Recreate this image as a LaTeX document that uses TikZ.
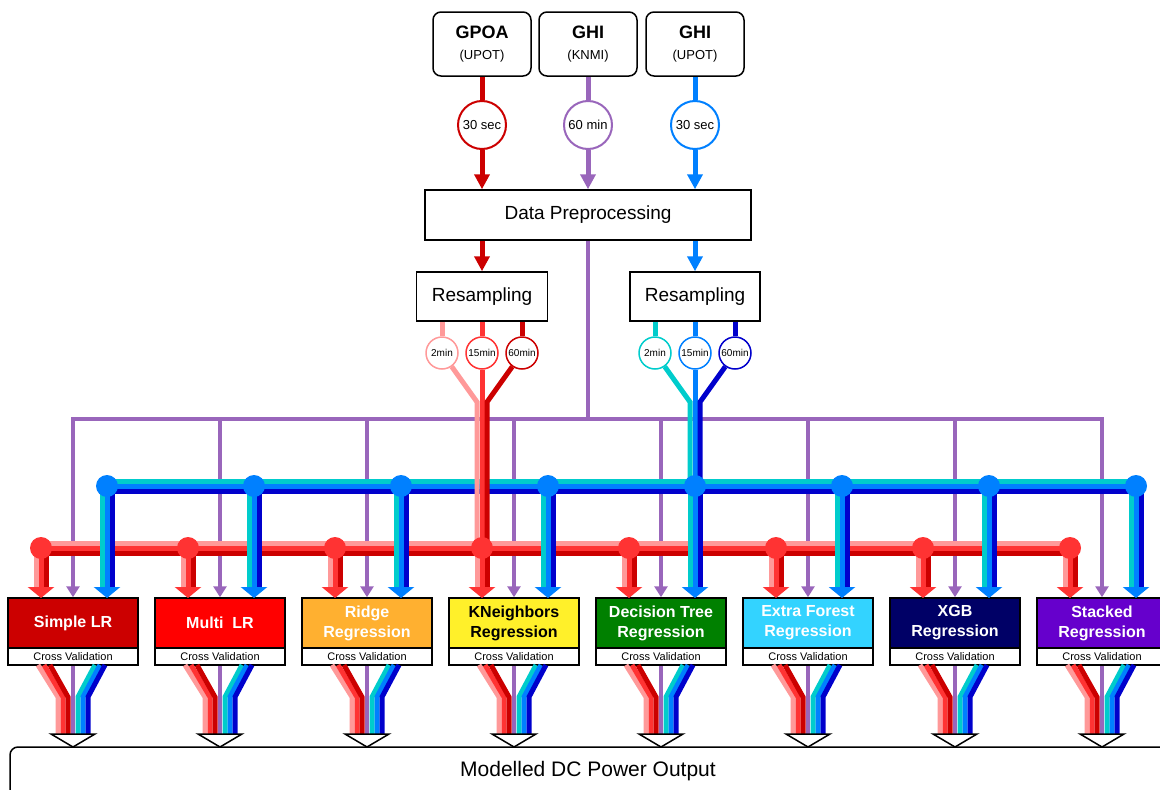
\documentclass[tikz,border=0pt]{standalone}
\usepackage{fontspec}
\setmainfont{Liberation Sans}
\usetikzlibrary{arrows.meta,positioning}

\definecolor{lightred}{HTML}{FF9999}
\definecolor{midred}{HTML}{FF3333}
\definecolor{deepred}{HTML}{CC0000}
\definecolor{lightblue}{HTML}{00CCCC}
\definecolor{midblue}{HTML}{0080FF}
\definecolor{deepblue}{HTML}{0000CC}
\definecolor{lilac}{HTML}{9966BB}
\definecolor{simplec}{HTML}{CC0000}
\definecolor{multic}{HTML}{FF0000}
\definecolor{ridgec}{HTML}{FFB030}
\definecolor{kneighc}{HTML}{FFF02A}
\definecolor{treec}{HTML}{008000}
\definecolor{forestc}{HTML}{33D3FF}
\definecolor{xgbc}{HTML}{000066}
\definecolor{stackc}{HTML}{6600CC}

\newcommand{\setfs}[1]{\fontsize{#1}{#1}\selectfont}

\begin{document}
\begin{tikzpicture}[x=1pt,y=-1pt,line join=miter,
    src node/.style={draw,line width=1.5pt,rounded corners=8pt,fill=white,minimum width=98pt,minimum height=64pt,inner sep=0pt,align=center,font=\fontsize{13}{21}\selectfont},
    rate node/.style={circle,draw,line width=2pt,fill=white,minimum size=48pt,inner sep=0pt,font=\setfs{13}},
    proc node/.style={draw,line width=1.5pt,fill=white,inner sep=0pt,font=\setfs{19}},
    res node/.style={circle,draw,line width=1.5pt,fill=white,minimum size=32pt,inner sep=0pt,font=\setfs{10}},
    model node/.style={draw,line width=1.5pt,minimum width=130pt,minimum height=50pt,inner sep=0pt,align=center,font=\fontsize{16}{20}\selectfont\bfseries},
    cv node/.style={draw,line width=1.5pt,fill=white,minimum width=130pt,minimum height=17pt,inner sep=0pt,font=\setfs{11}},
    feed/.style={line width=5pt},
    feed tip/.style={-{Triangle[width=15pt,length=15pt]}},
    drop tip/.style={-{Triangle[width=26pt,length=11pt]}},
    lilac tip/.style={-{Triangle[width=13pt,length=11pt]}}]
    \useasboundingbox (0,0) rectangle (1160,790);
    \clip (0,0) rectangle (1160,790);

    % sources
    \node[src node] (gpoa) at (482,44) {{\fontsize{18}{21}\selectfont\bfseries GPOA}\\(UPOT)};
    \node[src node] (knmi) at (588,44) {{\fontsize{18}{21}\selectfont\bfseries GHI}\\(KNMI)};
    \node[src node] (upot) at (695,44) {{\fontsize{18}{21}\selectfont\bfseries GHI}\\(UPOT)};

    \node[rate node,draw=deepred] (r1) at (482,125) {30 sec};
    \node[rate node,draw=lilac] (r2) at (588,125) {60 min};
    \node[rate node,draw=midblue] (r3) at (695,125) {30 sec};

    \node[proc node,minimum width=326pt,minimum height=50pt] (dp) at (588,215) {Data Preprocessing};
    \node[proc node,minimum width=131pt,minimum height=49pt] (rs1) at (482,296.5) {Resampling};
    \node[proc node,minimum width=130pt,minimum height=49pt] (rs2) at (695,296.5) {Resampling};

    \path[feed]
        (gpoa) edge[deepred] (r1)
        (knmi) edge[lilac] (r2)
        (upot) edge[midblue] (r3)
        (r1) edge[deepred,feed tip] (r1 |- dp.north)
        (r2) edge[lilac,feed tip] (r2 |- dp.north)
        (r3) edge[midblue,feed tip] (r3 |- dp.north)
        (dp.south -| rs1) edge[deepred,feed tip] (rs1)
        (dp.south -| rs2) edge[midblue,feed tip] (rs2)
        ;

    % purple line to every model
    \coordinate (pbus) at (588,419);
    \draw[lilac,line width=4pt] (dp.south) -- (pbus);
    \draw[lilac,line width=4pt,line cap=rect] (73,419) -- (1102,419);

    % model boxes
    \foreach \i/\txt/\fc/\tc in {0/{Simple LR}/simplec/white,1/{Multi\ \ LR}/multic/white,
        2/{Ridge\\Regression}/ridgec/white,3/{KNeighbors\\Regression}/kneighc/black,
        4/{Decision Tree\\Regression}/treec/white,5/{Extra Forest\\Regression}/forestc/white,
        6/{XGB\\Regression}/xgbc/white,7/{Stacked\\Regression}/stackc/white}{
        \pgfmathsetmacro\cx{73+147*\i}
        \node[model node,fill=\fc,text=\tc] (m\i) at (\cx,623) {\txt};
        \node[cv node] (cv\i) at (\cx,656.5) {Cross Validation};
        \draw[lilac,line width=4pt,lilac tip] (\cx,419) -- (m\i.north);
    }

    % blue and red buses
    \foreach \y/\col in {481/lightblue,486/midblue,491/deepblue}
        \draw[\col,feed] (107,\y) -- (1136,\y);
    \foreach \y/\col in {543/lightred,548/midred,553/deepred}
        \draw[\col,feed] (41,\y) -- (1070,\y);

    % resampled series
    \foreach \n/\dx/\lbl/\col in {a/-40/2min/lightred,b/0/15min/midred,c/40/60min/deepred}{
        \node[res node,draw=\col] (rs1\n) at (482+\dx,353) {\lbl};
        \draw[\col,feed] (rs1.south -| rs1\n) -- (rs1\n);
        \draw[\col,feed] (rs1\n) -- (482+\dx/8,402) -- (482+\dx/8,548);
    }
    \foreach \n/\dx/\lbl/\col in {a/-40/2min/lightblue,b/0/15min/midblue,c/40/60min/deepblue}{
        \node[res node,draw=\col] (rs2\n) at (695+\dx,353) {\lbl};
        \draw[\col,feed] (rs2.south -| rs2\n) -- (rs2\n);
        \draw[\col,feed] (rs2\n) -- (695+\dx/8,402) -- (695+\dx/8,486);
    }

    % drops into the models
    \foreach \i in {0,...,7}{
        \pgfmathsetmacro\rx{73+147*\i-32}
        \pgfmathsetmacro\bx{73+147*\i+34}
        \draw[lightblue,feed] (\bx-5,486) -- (\bx-5,588);
        \draw[deepblue,feed] (\bx+5,486) -- (\bx+5,588);
        \draw[midblue,feed,drop tip] (\bx,486) -- (\bx,598);
        \draw[lightred,feed] (\rx-5,548) -- (\rx-5,588);
        \draw[deepred,feed] (\rx+5,548) -- (\rx+5,588);
        \draw[midred,feed,drop tip] (\rx,548) -- (\rx,598);
        \fill[midblue] (\bx,486) circle (11);
        \fill[midred] (\rx,548) circle (11);
    }

    % outputs
    \foreach \i in {0,...,7}{
        \pgfmathsetmacro\cx{73+147*\i}
        \foreach \t/\b/\col in {-35/-15/lightred,-29/-10/midred,-23/-5/deepred,22/5/lightblue,27/10/midblue,32/15/deepblue}
            \draw[\col,feed] (\cx+\t,665) -- (\cx+\b,697) -- (\cx+\b,734);
        \draw[lilac,line width=4pt] (cv\i.south) -- (\cx,734);
        \draw[line width=1.5pt,fill=white] (\cx-22,734) -- (\cx+22,734) -- (\cx,747) -- cycle;
    }

    \draw[line width=1.5pt,rounded corners=8pt] (10,747) rectangle (1190,840);
    \node[font=\setfs{21}] (out) at (588,771) {Modelled DC Power Output};
\end{tikzpicture}
\end{document}
